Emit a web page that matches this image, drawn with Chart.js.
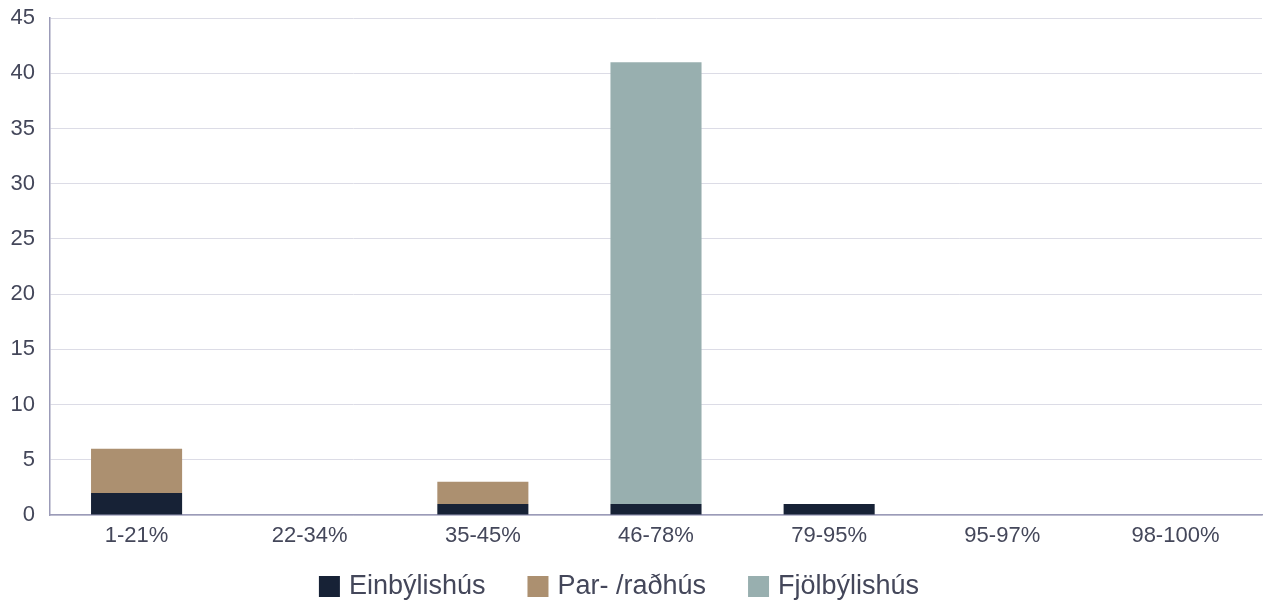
<!DOCTYPE html>
<html><head><meta charset="utf-8">
<script src="https://cdn.jsdelivr.net/npm/chart.js@4/dist/chart.umd.min.js"></script>
<style>html,body{margin:0;padding:0;background:#fff}#w{width:1263px;height:604px}</style>
</head><body><div id="w"><canvas id="c"></canvas></div>
<script>
const categories = ["1-21%","22-34%","35-45%","46-78%","79-95%","95-97%","98-100%"];
const einbyli = [2,0,1,1,1,0,0];
const parrad = [4,0,2,0,0,0,0];
const fjolbyli = [0,0,0,40,0,0,0];
const yTicks = [0,5,10,15,20,25,30,35,40,45];

const FONT = "'Liberation Sans', Arial, sans-serif";
Chart.defaults.font.family = FONT;
Chart.defaults.color = "#44475a";

const bottomLegend = {
  id: 'bottomLegend',
  afterDraw(chart) {
    const ctx = chart.ctx;
    const box = 21, gapText = 9, gapItem = 42, cy = 586.5, cx = 619;
    ctx.save();
    ctx.font = "27px " + FONT;
    ctx.textBaseline = 'middle';
    ctx.textAlign = 'left';
    const items = chart.data.datasets.map(d => ({label: d.label, color: d.backgroundColor, w: ctx.measureText(d.label).width}));
    const total = items.reduce((a, it) => a + box + gapText + it.w, 0) + gapItem * (items.length - 1);
    let x = cx - total / 2;
    items.forEach(it => {
      ctx.fillStyle = it.color;
      ctx.fillRect(x, cy - box / 2, box, box);
      x += box + gapText;
      ctx.fillStyle = '#44475a';
      ctx.fillText(it.label, x, cy);
      x += it.w + gapItem;
    });
    ctx.restore();
  }
};

new Chart(document.getElementById('c'), {
  type: 'bar',
  data: {
    labels: categories,
    datasets: [
      {label: 'Einbýlishús', data: einbyli, backgroundColor: '#172236'},
      {label: 'Par- /raðhús', data: parrad, backgroundColor: '#ac9070'},
      {label: 'Fjölbýlishús', data: fjolbyli, backgroundColor: '#98afaf'}
    ]
  },
  plugins: [bottomLegend],
  options: {
    responsive: true, maintainAspectRatio: false, animation: false,
    datasets: {bar: {barPercentage: 0.526, categoryPercentage: 1}},
    layout: {padding: {top: 18, right: 1, left: 0, bottom: 55}},
    plugins: {
      tooltip: {enabled: false},
      legend: {display: false}
    },
    scales: {
      x: {stacked: true, grid: {display: false, drawTicks: false}, border: {color: '#9b9bb8', width: 1.5},
          ticks: {font: {size: 22}, padding: 8, color: '#44475a'},
          afterFit: (s) => { s.height = 34; }},
      y: {stacked: true, min: 0, max: 45, afterBuildTicks: (s) => { s.ticks = yTicks.map(v => ({value: v})); },
          grid: {color: '#dcdce6', drawTicks: false}, border: {color: '#9b9bb8', width: 1.5},
          ticks: {font: {size: 22}, padding: 15, color: '#44475a'},
          afterFit: (s) => { s.width = 50; s.paddingTop = 0; s.paddingBottom = 0; }}
    }
  }
});
</script></body></html>
